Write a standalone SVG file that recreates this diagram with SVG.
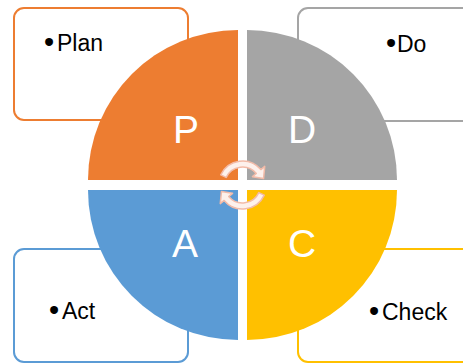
<svg xmlns="http://www.w3.org/2000/svg" width="463" height="364" viewBox="0 0 463 364">
  <style>
    .box { fill: #FFFFFF; stroke-width: 2; }
    .lbl { font-family: "Liberation Sans", Arial, sans-serif; font-size: 23px; fill: #000000; }
    .bul { font-size: 29px; }
    .big { font-family: "Liberation Sans", Arial, sans-serif; font-size: 39px; fill: #FFFFFF; text-anchor: middle; }
    .arr { fill: #FDF1EC; stroke: #F2BBA8; stroke-width: 1.5; stroke-linejoin: round; }
  </style>
  <rect width="463" height="364" fill="#FFFFFF"/>

  <g id="box-plan">
    <rect class="box" x="14" y="8" width="174" height="112" rx="10" stroke="#ED7D31"/>
    <text class="lbl" x="44" y="52"><tspan class="bul">•</tspan><tspan x="57" y="51">Plan</tspan></text>
  </g>
  <g id="box-do">
    <rect class="box" x="298" y="8" width="174" height="113" rx="10" stroke="#A5A5A5"/>
    <text class="lbl" x="386" y="53"><tspan class="bul">•</tspan><tspan x="397" y="52">Do</tspan></text>
  </g>
  <g id="box-act">
    <rect class="box" x="14" y="249" width="174" height="113" rx="10" stroke="#5B9BD5"/>
    <text class="lbl" x="49" y="320"><tspan class="bul">•</tspan><tspan x="62" y="319">Act</tspan></text>
  </g>
  <g id="box-check">
    <rect class="box" x="298" y="249" width="174" height="113" rx="10" stroke="#FFC000"/>
    <text class="lbl" x="369" y="321"><tspan class="bul">•</tspan><tspan x="382" y="320">Check</tspan></text>
  </g>

  <g id="quad-p">
    <path d="M238,180 L88,180 A150,150 0 0 1 238,30 Z" fill="#ED7D31"/>
    <text class="big" x="186" y="143">P</text>
  </g>
  <g id="quad-d">
    <path d="M247,180 L247,30 A150,150 0 0 1 397,180 Z" fill="#A5A5A5"/>
    <text class="big" x="302" y="143">D</text>
  </g>
  <g id="quad-c">
    <path d="M247,190 L397,190 A150,150 0 0 1 247,340 Z" fill="#FFC000"/>
    <text class="big" x="302" y="257">C</text>
  </g>
  <g id="quad-a">
    <path d="M238,190 L238,340 A150,150 0 0 1 88,190 Z" fill="#5B9BD5"/>
    <text class="big" x="185" y="257">A</text>
  </g>

  <g id="connectors" transform="translate(242.5,185)">
    <path class="arr" d="M-21.75,-10.14 A24,24 0 0 1 18.38,-15.43 L22.22,-18.64 L21.05,-6.43 L9.96,-8.36 L13.79,-11.57 A18,18 0 0 0 -16.31,-7.61 Z"/>
    <path class="arr" transform="rotate(180)" d="M-21.75,-10.14 A24,24 0 0 1 18.38,-15.43 L22.22,-18.64 L21.05,-6.43 L9.96,-8.36 L13.79,-11.57 A18,18 0 0 0 -16.31,-7.61 Z"/>
  </g>
</svg>
